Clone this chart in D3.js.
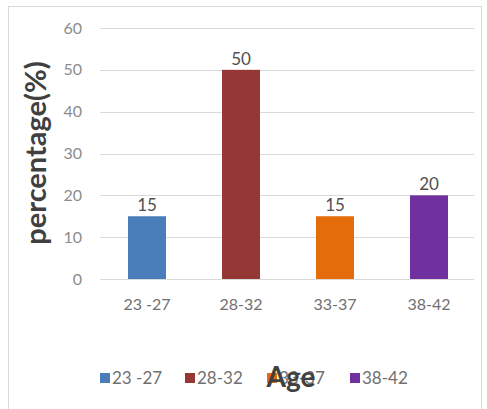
<!DOCTYPE html>
<html>
<head>
<meta charset="utf-8">
<script src="https://cdn.jsdelivr.net/npm/d3@7/dist/d3.min.js"></script>
<style>
  html, body { margin: 0; padding: 0; background: #fff; }
  svg { display: block; }
</style>
</head>
<body>
<svg id="chart" width="487" height="409"></svg>
<script>
// Age groups and share of respondents (%)
const categories = ["23 -27", "28-32", "33-37", "38-42"];
const values = [15, 50, 15, 20];
const colors = ["#4a7ebb", "#953735", "#e46c0a", "#7030a0"];
const yTicks = [0, 10, 20, 30, 40, 50, 60];

const svg = d3.select("#chart");
const W = 487, H = 409;
const font = "Lato, 'Open Sans', sans-serif";

// chart frame
svg.append("rect")
  .attr("x", 8.5).attr("y", 6.5)
  .attr("width", W - 8 - 6).attr("height", H - 6)
  .attr("fill", "#fff").attr("stroke", "#d9d9d9").attr("stroke-width", 1);

const x = d3.scaleBand().domain(categories).range([100, 476]).paddingInner(0.596).paddingOuter(0.298);
const y = d3.scaleLinear().domain([0, 60]).range([279, 28]);

// gridlines
svg.append("g").selectAll("line").data(yTicks).join("line")
  .attr("x1", 100).attr("x2", 474)
  .attr("y1", d => Math.round(y(d)) + 0.5).attr("y2", d => Math.round(y(d)) + 0.5)
  .attr("stroke", "#d9d9d9").attr("stroke-width", 1);

// y axis tick labels
const yAxis = d3.axisLeft(y).tickValues(yTicks).tickSize(0).tickPadding(0);
const gy = svg.append("g").attr("transform", "translate(82,0)").call(yAxis);
gy.select(".domain").remove();
gy.selectAll("text").attr("fill", "#8c8c8c").attr("font-size", 16).attr("font-family", font);

// bars
svg.append("g").selectAll("rect").data(values).join("rect")
  .attr("x", (d, i) => x(categories[i]))
  .attr("y", d => y(d))
  .attr("width", x.bandwidth())
  .attr("height", d => y(0) - y(d))
  .attr("fill", (d, i) => colors[i]);

// value labels
svg.append("g").selectAll("text").data(values).join("text")
  .attr("x", (d, i) => x(categories[i]) + x.bandwidth() / 2)
  .attr("y", d => y(d) - 5)
  .attr("text-anchor", "middle")
  .attr("font-family", font).attr("font-size", 17).attr("fill", "#505050")
  .text(d => d);

// x axis labels
const xAxis = d3.axisBottom(x).tickSize(0).tickPadding(0);
const gx = svg.append("g").attr("transform", "translate(0,299)").call(xAxis);
gx.select(".domain").remove();
gx.selectAll("text").attr("fill", "#707070").attr("font-size", 16).attr("font-family", font);

// y axis title
svg.append("text")
  .attr("transform", "translate(46,153) rotate(-90)")
  .attr("text-anchor", "middle")
  .attr("font-family", font).attr("font-weight", "bold").attr("font-size", 29)
  .attr("fill", "#404040")
  .text("percentage(%)");

// legend
const legendX = [100, 185, 267, 350];
const lg = svg.append("g").selectAll("g").data(categories).join("g")
  .attr("transform", (d, i) => `translate(${legendX[i]},378)`);
lg.append("rect").attr("x", 0).attr("y", -5).attr("width", 10).attr("height", 10)
  .attr("fill", (d, i) => colors[i]);
lg.append("text").attr("x", 12).attr("y", 6)
  .attr("font-family", font).attr("font-size", 17).attr("fill", "#707070")
  .text(d => d);

// x axis title (sits over the legend row)
svg.append("text")
  .attr("x", 291).attr("y", 387)
  .attr("text-anchor", "middle")
  .attr("font-family", font).attr("font-weight", "bold").attr("font-size", 28)
  .attr("fill", "#404040")
  .text("Age");
</script>
</body>
</html>
